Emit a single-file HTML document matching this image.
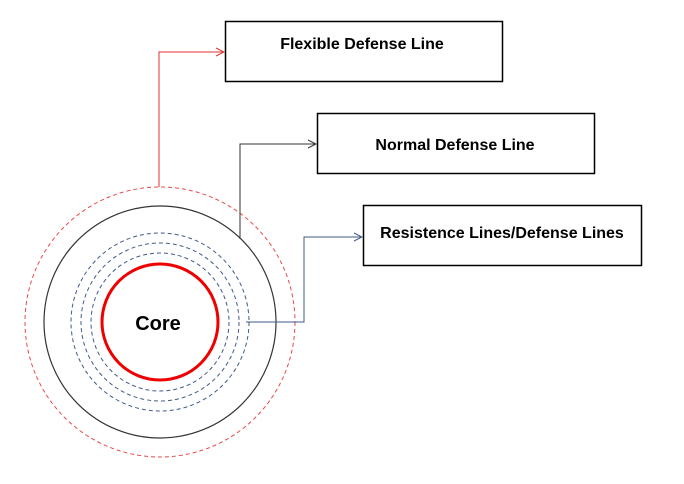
<!DOCTYPE html>
<html><head><meta charset="utf-8"><style>
html,body{margin:0;padding:0;background:#fff;}
svg{display:block;}
text{font-family:"Liberation Sans",Arial,sans-serif;font-weight:bold;fill:#000;}
</style></head><body>
<svg width="684" height="484" viewBox="0 0 684 484" xmlns="http://www.w3.org/2000/svg">
<defs>
<marker id="ar" markerWidth="10" markerHeight="10" refX="9" refY="5" orient="auto" markerUnits="userSpaceOnUse"><path d="M1,1 L9,5 L1,9" fill="none" stroke="#e03030" stroke-width="1"/></marker>
<marker id="ab" markerWidth="10" markerHeight="10" refX="9" refY="5" orient="auto" markerUnits="userSpaceOnUse"><path d="M1,1 L9,5 L1,9" fill="none" stroke="#333" stroke-width="1"/></marker>
<marker id="an" markerWidth="10" markerHeight="10" refX="9" refY="5" orient="auto" markerUnits="userSpaceOnUse"><path d="M1,1 L9,5 L1,9" fill="none" stroke="#3f5b8a" stroke-width="1"/></marker>
</defs>
<circle cx="160" cy="322" r="135" fill="none" stroke="#e84a4a" stroke-width="1" stroke-dasharray="4,3"/>
<circle cx="160" cy="322" r="116" fill="none" stroke="#333" stroke-width="1.2"/>
<circle cx="160" cy="322" r="89" fill="none" stroke="#3f5b8a" stroke-width="1" stroke-dasharray="4,3"/>
<circle cx="160" cy="322" r="79" fill="none" stroke="#3f5b8a" stroke-width="1" stroke-dasharray="4,3"/>
<circle cx="160" cy="322" r="69" fill="none" stroke="#3f5b8a" stroke-width="1" stroke-dasharray="4,3"/>
<circle cx="160" cy="322" r="58" fill="none" stroke="#ee0000" stroke-width="3"/>
<text x="158" y="330" font-size="20" text-anchor="middle">Core</text>
<polyline points="159,187 159,52 224,52" fill="none" stroke="#e03030" stroke-width="1" marker-end="url(#ar)"/>
<polyline points="240,239 240,144 316,144" fill="none" stroke="#333" stroke-width="1" marker-end="url(#ab)"/>
<polyline points="246,322 304,322 304,237 362,237" fill="none" stroke="#3f5b8a" stroke-width="1" marker-end="url(#an)"/>
<rect x="225.5" y="21.5" width="277" height="60" fill="#fff" stroke="#000" stroke-width="1.5"/>
<rect x="317.5" y="113.5" width="277" height="60" fill="#fff" stroke="#000" stroke-width="1.5"/>
<rect x="363.5" y="205.5" width="278" height="60" fill="#fff" stroke="#000" stroke-width="1.5"/>
<text x="362" y="49" font-size="16" text-anchor="middle">Flexible Defense Line</text>
<text x="455" y="150" font-size="16" text-anchor="middle">Normal Defense Line</text>
<text x="502" y="238" font-size="16" text-anchor="middle">Resistence Lines/Defense Lines</text>
</svg>
</body></html>
